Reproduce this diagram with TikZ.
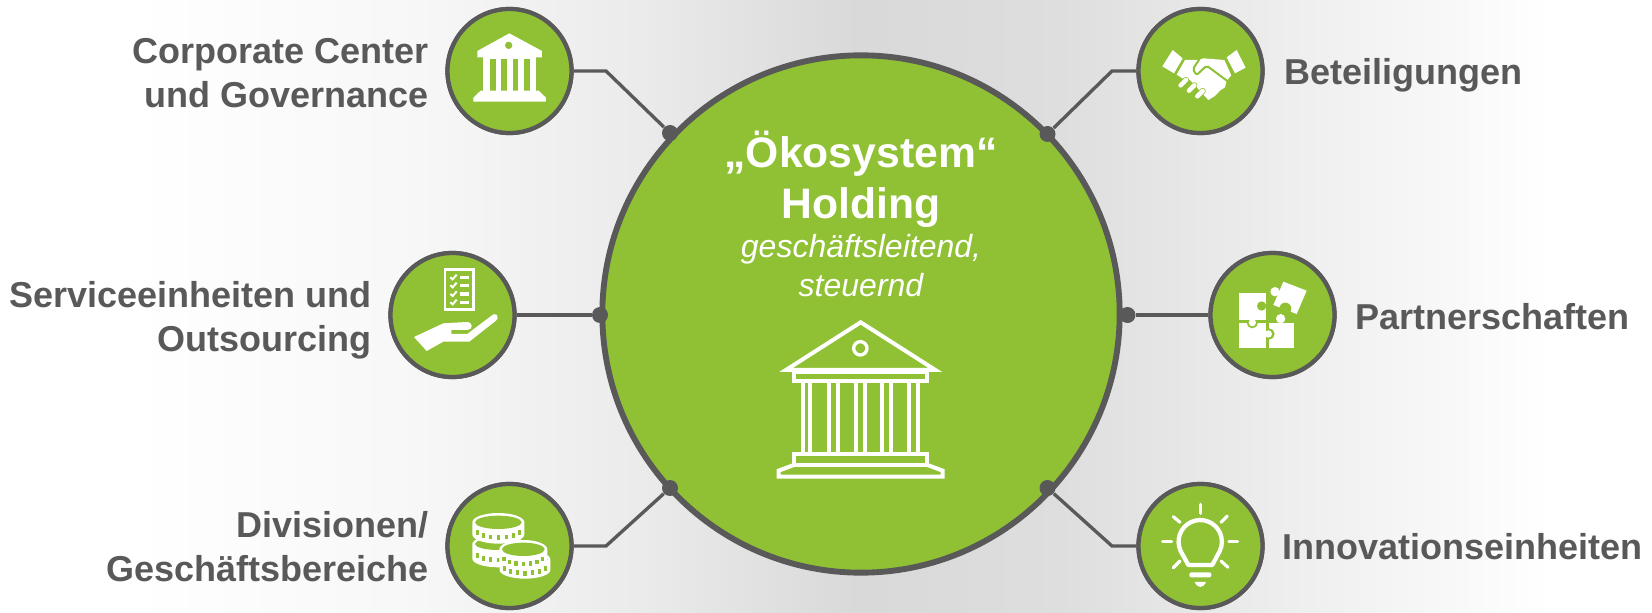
\documentclass[tikz,border=0pt]{standalone}
\usepackage{fontspec}
\setmainfont{Liberation Sans}
\definecolor{holdgreen}{RGB}{144,193,52}
\definecolor{holdgray}{RGB}{89,89,89}
\pgfdeclarehorizontalshading{backshade}{100bp}{
  color(0bp)=(white);
  color(29bp)=(white);
  color(37.5bp)=(white!97!black);
  color(44.5bp)=(white!92!black);
  color(51bp)=(white!85!black);
  color(57bp)=(white!87!black);
  color(62.5bp)=(white!92!black);
  color(72bp)=(white);
  color(100bp)=(white)}

\tikzset{every picture/.style={line width=0.75pt}}
\tikzset{
  unitcircle/.style={circle,draw=holdgray,fill=holdgreen,line width=3.2pt,minimum size=93pt,inner sep=0pt},
  hubcircle/.style={circle,draw=holdgray,fill=holdgreen,line width=4.4pt,minimum size=388pt,inner sep=0pt},
  joindot/.style={circle,fill=holdgray,minimum size=12pt,inner sep=0pt},
  joinline/.style={draw=holdgray,line width=2.5pt},
  unitlabel/.style={text=holdgray,font=\fontsize{27}{33}\selectfont\bfseries,inner sep=0pt},
  hubtitle/.style={text=white,font=\fontsize{32}{32}\selectfont\bfseries,inner sep=0pt,anchor=base},
  hubnote/.style={text=white,font=\fontsize{24}{24}\selectfont\itshape,inner sep=0pt,anchor=base},
  iconline/.style={draw=white,line width=#1,line join=miter},
  iconline/.default=2pt,
}

\begin{document}
\begin{tikzpicture}[x=0.75pt,y=0.75pt,yscale=-1,xscale=1]
        \useasboundingbox (0,0) rectangle (1652,613);
        % background
        \path [shading=backshade] (0,0) rectangle (1652,613);

        % Connector ends
        \coordinate (bendtl) at (606,71);
        \coordinate (bendbl) at (606,546);
        \coordinate (bendtr) at (1112,71);
        \coordinate (bendbr) at (1112,546);

        % Circles
        \node [hubcircle] (hub) at (861,314) {};
        \node [unitcircle] (corporate) at (509.5,71) {};
        \node [unitcircle] (service) at (452.5,315) {};
        \node [unitcircle] (division) at (509.5,546) {};
        \node [unitcircle] (stake) at (1200.5,71) {};
        \node [unitcircle] (partner) at (1272.5,315) {};
        \node [unitcircle] (innovation) at (1200.5,546) {};

        % Dots
        \node [joindot] (dottl) at (670,133) {};
        \node [joindot] (dotml) at (600,315) {};
        \node [joindot] (dotbl) at (670,488) {};
        \node [joindot] (dottr) at (1047.5,134) {};
        \node [joindot] (dotmr) at (1127.5,315) {};
        \node [joindot] (dotbr) at (1047.5,488) {};

        % Connectors
        \draw [joinline] (corporate) -- (bendtl) -- (dottl);
        \draw [joinline] (service) -- (dotml);
        \draw [joinline] (division) -- (bendbl) -- (dotbl);
        \draw [joinline] (stake) -- (bendtr) -- (dottr);
        \draw [joinline] (partner) -- (dotmr);
        \draw [joinline] (innovation) -- (bendbr) -- (dotbr);

        % redraw circles over the connector ends
        \node [unitcircle] at (corporate) {};
        \node [unitcircle] at (service) {};
        \node [unitcircle] at (division) {};
        \node [unitcircle] at (stake) {};
        \node [unitcircle] at (partner) {};
        \node [unitcircle] at (innovation) {};

        % Text Node
        \node [unitlabel,align=right,anchor=east] (corporatetext) at (429,73) {Corporate Center\\und Governance};
        \node [unitlabel,align=right,anchor=east] (servicetext) at (372,320) {Serviceeinheiten und\\Outsourcing};
        \node [unitlabel,align=right,anchor=east] (divisiontext) at (429,547) {Divisionen/\\Geschäftsbereiche};
        \node [unitlabel,anchor=base west] (staketext) at (1284,85) {Beteiligungen};
        \node [unitlabel,anchor=base west] (partnertext) at (1355,329) {Partnerschaften};
        \node [unitlabel,anchor=base west] (innovationtext) at (1282,559.5) {Innovationseinheiten};
        \node [hubtitle] (hubline1) at (861,167) {„Ökosystem“};
        \node [hubtitle] (hubline2) at (861,218.5) {Holding};
        \node [hubnote] (hubline3) at (861,257.5) {geschäftsleitend,};
        \node [hubnote] (hubline4) at (861,296) {steuernd};

        % Large temple
        \begin{scope}[shift={(720,120)},scale=0.3333]
          \draw [iconline=3pt] (198,750) -- (422,607) -- (646,750) -- cycle;
          \draw [iconline=2.5pt] (421,685) circle (20);
          \draw [iconline=3pt] (222,755) rectangle (622,783);
          \foreach \colx in {248,270,328,355,408,435,487,513,567,593} {
            \draw [iconline=3pt] (\colx,783) -- (\colx,1003);
          }
          \draw [iconline=3pt] (222,1003) rectangle (622,1035);
          \draw [iconline=3pt] (222,1035) -- (176,1052) -- (176,1070) -- (668,1070) -- (668,1052) -- (622,1035);
        \end{scope}

        % Temple icon
        \begin{scope}[shift={(430,0)},scale=0.3333]
          \fill [white] (238,100) -- (336,153) -- (336,172) -- (142,172) -- (142,153) -- cycle;
          \fill [holdgreen] (236,136) circle (11);
          \fill [white] (160,172) rectangle (318,272);
          \foreach \colx in {180,213,248,282} {
            \fill [holdgreen] (\colx,178) rectangle ++(17,94);
          }
          \fill [white] (152,272) -- (326,272) -- (348,293) -- (348,305) -- (130,305) -- (130,293) -- cycle;
        \end{scope}

        % Hand icon
        \begin{scope}[shift={(380,240)},scale=0.3333]
          \draw [iconline=1.8pt] (195,88) rectangle (281,209);
          \foreach \rowy in {112,136,162,187} {
            \draw [iconline=1.5pt] (211,\rowy) -- ++(7,6) -- ++(12,-14);
            \fill [white] (240,\rowy-5) rectangle (268,\rowy+5);
          }
          \fill [white] (102,291) -- (190,250) -- (260,246) .. controls (280,246) and (280,270) .. (262,270) -- (214,270) -- (214,282) -- (262,282) -- (288,262) -- (340,223) .. controls (352,218) and (358,235) .. (348,242) -- (268,305) -- (190,305) -- (140,333) -- cycle;
        \end{scope}

        % Coin icon
        \begin{scope}[shift={(430,470)},scale=0.3333]
          \foreach \cx/\cy/\rx/\ry/\high in {205/222/78/26/44,205/157/78/28/36,285/268/76/26/32,280/238/72/28/32} {
            \fill [white] (\cx-\rx,\cy) -- (\cx-\rx,\cy+\high) arc [start angle=180,end angle=0,x radius=\rx,y radius=\ry] -- (\cx+\rx,\cy) arc [start angle=0,end angle=180,x radius=\rx,y radius=-\ry] -- cycle;
            \fill [holdgreen] (\cx,\cy) ellipse ({\rx-8} and {\ry-8});
            \foreach \tick in {25,50,70,90,110,130,155} {
              \fill [holdgreen] ({\cx+(\rx-8)*cos(\tick)-5},{\cy+\high*0.55+(\ry-2)*sin(\tick)-7}) rectangle ++(10,14);
            }
          }
        \end{scope}

        % Handshake icon
        \begin{scope}[shift={(1030,0)},scale=0.3333]
          \fill [white] (397,199) -- (428,150) -- (458,175) -- (432,220) -- cycle;
          \fill [white] (590,172) -- (620,150) -- (647,203) -- (615,220) -- cycle;
          \fill [white] (465,180) -- (505,180) -- (520,175) -- (583,180) -- (604,226) -- (590,242) -- (585,262) -- (570,272) -- (555,288) -- (535,300) -- (480,240) -- (460,237) -- (440,224) -- cycle;
          \draw [holdgreen,line width=1.5pt,line cap=round,rounded corners=1.5pt] (508,178) -- (488,208) -- (500,225) -- (530,197) -- (592,243);
          \foreach \fingx/\fingy in {460/248,485/264,510/281} {
            \draw [holdgreen,line width=4.6pt,line cap=round] (\fingx-8,\fingy+8) -- (\fingx+8,\fingy-8);
            \draw [white,line width=3.4pt,line cap=round] (\fingx-8,\fingy+8) -- (\fingx+8,\fingy-8);
          }
        \end{scope}

        % Puzzle icon
        \begin{scope}[shift={(1100,240)},scale=0.3333]
          \fill [white] (507,248) rectangle (582,323);
          \fill [white] (542,236) circle (14);
          \fill [holdgreen] (507,282) circle (17);
          \fill [white] (417,248) rectangle (498,323);
          \fill [holdgreen] (457,248) circle (17);
          \fill [white] (417,158) rectangle (498,240);
          \fill [holdgreen] (485,198) circle (14);
          \fill [white] (457,248) circle (11);
          \fill [white] (505,282) circle (11);
          \fill [white] (550,125) -- (620,152) -- (590,222) -- (520,195) -- cycle;
          \fill [white] (525,155) circle (14);
          \fill [holdgreen] (556,206) circle (18);
        \end{scope}

        % Bulb icon
        \begin{scope}[shift={(1030,470)},scale=0.3333]
          \draw [iconline=3.2pt,line join=round] (475,285) -- (452,243) arc [start angle=154.6,end angle=385.4,radius=65] -- (547,285) -- cycle;
          \foreach \rayax/\rayay/\raybx/\rayby in {511/103/511/130,430/140/450/157,592/138/573/157,398/215/425/215,597/215/623/215,430/293/450/273,594/292/573/273} {
            \draw [iconline=2.4pt,line cap=round] (\rayax,\rayay) -- (\raybx,\rayby);
          }
          \fill [white,rounded corners=1.5pt] (478,307) rectangle (544,322);
          \fill [white] (494,336) -- (528,336) .. controls (524,346) and (516,351) .. (511,351) .. controls (506,351) and (498,346) .. (494,336) -- cycle;
        \end{scope}
\end{tikzpicture}
\end{document}
